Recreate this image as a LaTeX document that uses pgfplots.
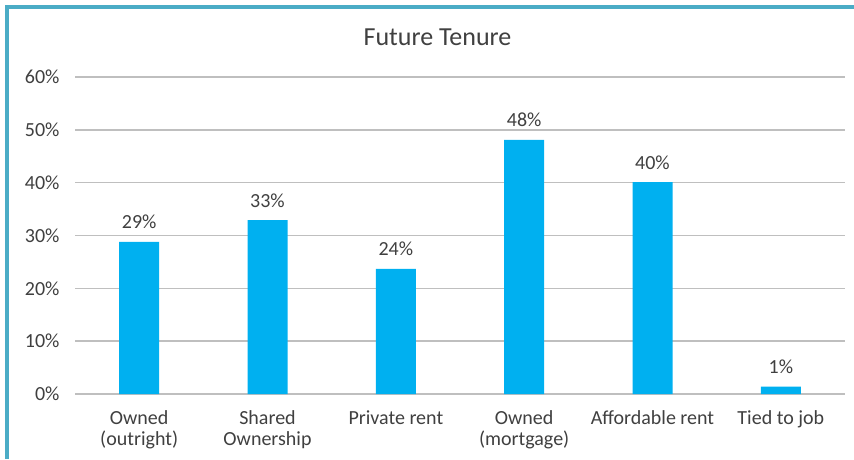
\documentclass[border=0pt]{standalone}
\usepackage{fontspec}
\setmainfont{Carlito}
\usepackage{pgfplots}
\pgfplotsset{compat=1.18}
\definecolor{barblue}{HTML}{00B0F0}
\definecolor{frame}{HTML}{4BACC6}
\definecolor{grid}{HTML}{D9D9D9}
\definecolor{txt}{HTML}{404040}
\begin{document}
\begin{tikzpicture}
\path[use as bounding box] (0pt,0pt) rectangle (854pt,459pt);
\fill[white] (0pt,0pt) rectangle (854pt,459pt);
\draw[frame, line width=3.5pt] (7pt,0pt) -- (7pt,452pt) -- (854pt,452pt);
\node[txt, font=\fontsize{26}{30}\selectfont, anchor=base] at (437.5pt,413pt) {Future Tenure};
\begin{axis}[
  at={(75pt,65pt)}, anchor=south west,
  scale only axis, width=770pt, height=317pt,
  xmin=-0.5, xmax=5.5, ymin=0, ymax=60,
  axis line style={draw=none},
  ytick={0,10,...,60},
  ymajorgrids, xmajorgrids=false, grid style={grid, line width=1.5pt},
  major tick length=0pt,
  yticklabel={\pgfmathprintnumber{\tick}\%},
  /pgf/number format/assume math mode=true,
  yticklabel style={txt, font=\fontsize{20}{23}\selectfont, xshift=-12pt},
  xtick=data,
  xticklabels={{Owned\\(outright)},{Shared\\Ownership},{Private rent},{Owned\\(mortgage)},{Affordable rent},{Tied to job}},
  xticklabel style={txt, font=\fontsize{20}{21}\selectfont, align=center, anchor=north, yshift=-13pt},
  ybar, bar width=40pt, bar shift=0pt,
  nodes near coords={\pgfmathprintnumber[fixed,precision=0]{\pgfplotspointmeta}\%},
  nodes near coords style={txt, font=\fontsize{20}{23}\selectfont, anchor=base, yshift=13pt},
  clip=false,
]
\addplot[fill=barblue, draw=none, point meta=explicit] coordinates {
 (0,28.8) [29] (1,32.9) [33] (2,23.7) [24] (3,48.1) [48] (4,40.1) [40] (5,1.4) [1]
};
\end{axis}
\end{tikzpicture}
\end{document}
